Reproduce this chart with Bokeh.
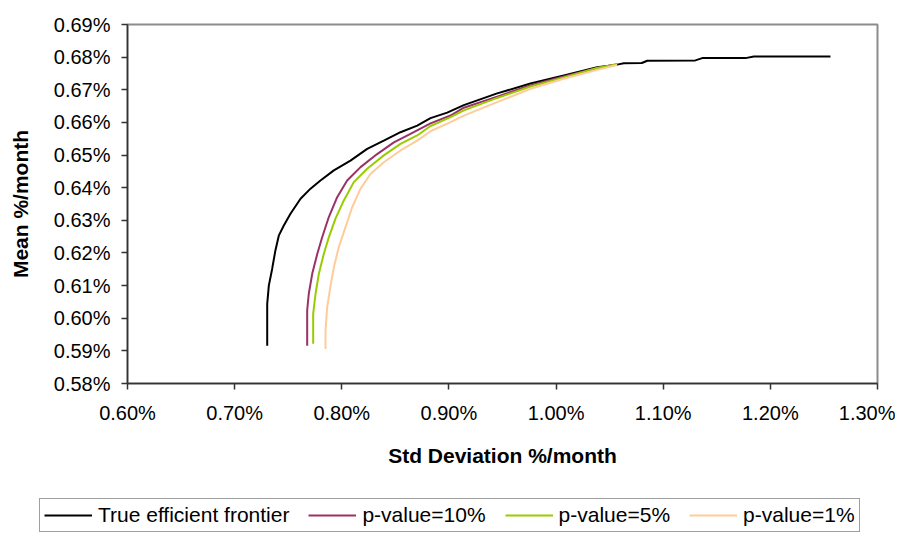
from bokeh.plotting import figure
from bokeh.models import Range1d, FixedTicker, PrintfTickFormatter, Legend, LegendItem
from bokeh.embed import file_html
from bokeh.resources import INLINE

# Data (values in % per month)
true_sd = [0.7304, 0.7304, 0.7319, 0.7350, 0.7380, 0.7412, 0.7459, 0.7521, 0.7615, 0.7708,
           0.7801, 0.7926, 0.8081, 0.8237, 0.8392, 0.8548, 0.8704, 0.8828, 0.8984, 0.9139,
           0.9450, 0.9761, 1.0072, 1.0384, 1.0570, 1.0632, 1.0800, 1.0851, 1.1300, 1.1364,
           1.1768, 1.1846, 1.2561]
true_mean = [0.5916, 0.6044, 0.6100, 0.6151, 0.6207, 0.6253, 0.6284, 0.6320, 0.6366, 0.6397,
             0.6422, 0.6453, 0.6483, 0.6519, 0.6544, 0.6570, 0.6590, 0.6613, 0.6630, 0.6653,
             0.6689, 0.6719, 0.6744, 0.6769, 0.6777, 0.6781, 0.6782, 0.6789, 0.6790, 0.6797,
             0.6797, 0.6802, 0.6802]

p10_sd = [0.7677, 0.7677, 0.7692, 0.7724, 0.7771, 0.7817, 0.7879, 0.7957, 0.8050, 0.8175,
          0.8330, 0.8486, 0.8641, 0.8828, 0.9015, 0.9139, 0.9450, 0.9761, 1.0072, 1.0384, 1.0570]
p10_mean = [0.5916, 0.6024, 0.6075, 0.6136, 0.6197, 0.6248, 0.6310, 0.6371, 0.6422, 0.6463,
            0.6503, 0.6539, 0.6565, 0.6597, 0.6621, 0.6645, 0.6679, 0.6714, 0.6741, 0.6767, 0.6778]

p5_sd = [0.7733, 0.7733, 0.7755, 0.7786, 0.7832, 0.7879, 0.7941, 0.8019, 0.8112, 0.8237,
         0.8392, 0.8548, 0.8704, 0.8828, 0.9015, 0.9139, 0.9450, 0.9761, 1.0072, 1.0384, 1.0570]
p5_mean = [0.5922, 0.6014, 0.6075, 0.6136, 0.6197, 0.6248, 0.6305, 0.6361, 0.6417, 0.6458,
           0.6499, 0.6534, 0.6560, 0.6589, 0.6616, 0.6637, 0.6675, 0.6710, 0.6738, 0.6767, 0.6778]

p1_sd = [0.7848, 0.7848, 0.7864, 0.7895, 0.7926, 0.7972, 0.8035, 0.8097, 0.8175, 0.8268,
         0.8392, 0.8548, 0.8704, 0.8828, 0.9015, 0.9139, 0.9450, 0.9761, 1.0072, 1.0384, 1.0570]
p1_mean = [0.5906, 0.5962, 0.6034, 0.6100, 0.6156, 0.6218, 0.6279, 0.6340, 0.6397, 0.6442,
           0.6478, 0.6514, 0.6544, 0.6573, 0.6601, 0.6621, 0.6662, 0.6703, 0.6734, 0.6761, 0.6776]

x_ticks = [0.60, 0.70, 0.80, 0.90, 1.00, 1.10, 1.20, 1.30]
y_ticks = [0.58, 0.59, 0.60, 0.61, 0.62, 0.63, 0.64, 0.65, 0.66, 0.67, 0.68, 0.69]

series_labels = ["True efficient frontier", "p-value=10%", "p-value=5%", "p-value=1%"]
series_colors = ["#000000", "#993366", "#99CC00", "#FFCC99"]
series_data = [(true_sd, true_mean), (p10_sd, p10_mean), (p5_sd, p5_mean), (p1_sd, p1_mean)]

FONT = "Liberation Sans"

p = figure(width=895, height=495, output_backend="svg", toolbar_location=None,
           x_range=Range1d(0.60, 1.30), y_range=Range1d(0.58, 0.69),
           min_border_left=127, min_border_right=18, min_border_top=24, min_border_bottom=112)

p.xgrid.visible = False
p.ygrid.visible = False
p.background_fill_color = "white"
p.border_fill_color = "white"
p.outline_line_color = "#8c8c8c"
p.outline_line_width = 2

for (xs, ys), c in zip(series_data, series_colors):
    p.line(xs, ys, line_color=c, line_width=2)

for ax, ticks in ((p.xaxis[0], x_ticks), (p.yaxis[0], y_ticks)):
    ax.ticker = FixedTicker(ticks=ticks)
    ax.formatter = PrintfTickFormatter(format="%.2f%%")
    ax.axis_line_color = "#333333"
    ax.axis_line_width = 1.5
    ax.major_tick_line_color = "#333333"
    ax.major_tick_line_width = 1.5
    ax.major_tick_out = 6
    ax.major_tick_in = 0
    ax.minor_tick_line_color = None
    ax.major_label_text_font = FONT
    ax.major_label_text_font_size = "20px"
    ax.major_label_text_color = "#000000"
    ax.axis_label_text_font = FONT
    ax.axis_label_text_font_size = "21px"
    ax.axis_label_text_font_style = "bold"
    ax.axis_label_text_color = "#000000"

p.xaxis.axis_label = "Std Deviation %/month"
p.yaxis.axis_label = "Mean %/month"
p.xaxis.major_label_standoff = 12
p.xaxis.axis_label_standoff = 17
p.yaxis.major_label_standoff = 11
p.yaxis.axis_label_standoff = 19

# Legend strip below the chart (its frame covers the whole strip;
# the series are drawn again there but fall outside its visible y-range)
leg = figure(width=895, height=37, output_backend="svg", toolbar_location=None,
             x_range=Range1d(0, 1), y_range=Range1d(5, 6),
             min_border_left=0, min_border_right=0, min_border_top=0, min_border_bottom=0,
             x_axis_location=None, y_axis_location=None)
leg.xgrid.visible = False
leg.ygrid.visible = False
leg.outline_line_color = None
leg.background_fill_color = "white"
leg.border_fill_color = "white"

leg_renderers = [leg.line(xs, ys, line_color=c, line_width=2)
                 for (xs, ys), c in zip(series_data, series_colors)]

legend = Legend(items=[LegendItem(label=l, renderers=[r])
                       for l, r in zip(series_labels, leg_renderers)],
                orientation="horizontal", location=(39, 0))
legend.label_text_font = FONT
legend.label_text_font_size = "21px"
legend.label_text_color = "#000000"
legend.glyph_width = 48
legend.glyph_height = 18
legend.label_height = 18
legend.label_standoff = 6
legend.spacing = 19
legend.padding = 4
legend.margin = 0
legend.border_line_color = "#404040"
legend.border_line_width = 1.5
legend.background_fill_color = "white"
legend.background_fill_alpha = 1.0
leg.add_layout(legend, "center")

open("out.html", "w").write(file_html([p, leg], INLINE))
